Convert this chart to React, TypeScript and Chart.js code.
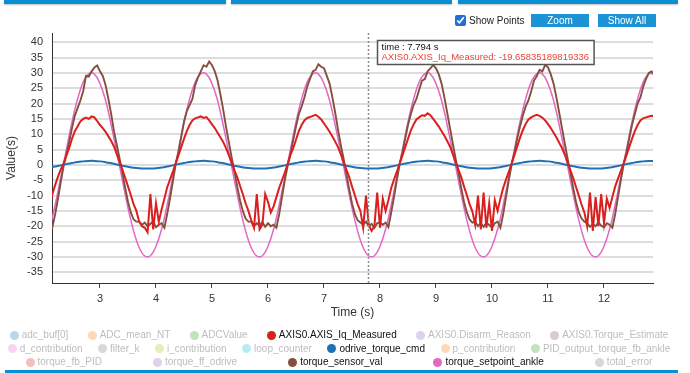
import React, { useEffect, useRef } from "react";
import { Chart, registerables } from "chart.js";

Chart.register(...registerables);

// ---------- data ----------
const FINE_START = 2.1;
const FINE_STEP = 0.05;
const COARSE_START = 2.1;
const COARSE_STEP = 0.1;

const xTickValues = [3, 4, 5, 6, 7, 8, 9, 10, 11, 12];
const yTickValues = [-35, -30, -25, -20, -15, -10, -5, 0, 5, 10, 15, 20, 25, 30, 35, 40];

// AXIS0.AXIS_Iq_Measured (0.05 s samples from 2.1 s)
const iqMeasured = [
  -13.5, -9.5, -6.5, -3.8, -1.5,
  0.5, 3, 5.5, 8.5, 11, 12.5, 14.2, 15, 15.4, 15, 15.8, 15.5, 14.3, 13, 12, 10.8, 9.3, 7.8, 6, 3.5, 1, -1.5, -4.2, -7, -9.8, -12.8, -15, -18.5, -20, -20.5, -22, -9.5, -21, -12.5, -18.5, -14.5, -11, -7.3, -4.8, -2.3,
  0.5, 3, 5.8, 8.5, 11, 13, 14.5, 15.2, 15.5, 15.8, 15.3, 15.6, 14.5, 13.2, 12, 10.5, 9, 7.5, 5.5, 3.2, 0.8, -1.8, -4, -6.8, -9.5, -12.5, -15, -18, -20.5, -9.5, -21, -19.5, -9.5, -12, -15.5, -13.5, -10.5, -7.5, -5, -2.5,
  0.3, 3.2, 5.5, 8.2, 11, 13, 14.5, 15.3, 15.6, 16, 16.3, 15.7, 14.8, 13.5, 12.2, 10.8, 9.3, 7.6, 5.8, 3.5, 1, -1.5, -4, -7, -9.8, -12.8, -15, -20.5, -10, -19.66, -21.5, -20, -9, -20.5, -11, -15, -11.5, -7.5, -4.8, -2.3,
  0.5, 3, 5.8, 8.5, 11.2, 13.2, 14.8, 15.5, 16.2, 16, 16.8, 16.2, 15, 13.8, 12.5, 11, 9.5, 7.8, 6, 3.5, 1, -1.5, -4, -7, -9.8, -12.8, -15.2, -19.5, -10, -21, -9, -20.5, -12.5, -21.5, -11.5, -15, -11, -7.5, -4.8, -2.3,
  0.5, 3.2, 6, 8.8, 11.3, 13.3, 14.8, 15.5, 16, 16.3, 16, 15.4, 14.5, 13.3, 12, 10.5, 9, 7.2, 5.5, 3.3, 0.8, -1.8, -4.3, -7.2, -10, -13, -15.5, -20, -9, -21.5, -10.5, -20, -9.5, -19, -11, -14, -10.5, -7, -4.5, -2,
  0.5, 3, 5.8, 8.5, 11, 13, 14.5, 15.2, 15.5, 15.8, 16, 15.8,
];

// torque_sensor_val (0.05 s samples from 2.1 s)
const torqueSensorVal = [
  -19, -20.3, -16, -11, -5.5,
  -0.5, 3.5, 7.5, 12, 16, 18.5, 21, 24, 29, 28.8, 30.5, 31.8, 32.4, 30.5, 29, 26, 21.5, 16.5, 11, 6.5, 2, -2.5, -7.5, -12, -15.5, -17.8, -18.5, -18.5, -19.5, -18.8, -20, -19.2, -18.5, -20.3, -19.5, -19, -20.5, -16, -11, -5.5,
  0, 4, 9, 14, 17.5, 19.5, 21.5, 26, 28.5, 30.5, 32.5, 32, 33.7, 32.5, 30.5, 27.5, 23, 18, 12.5, 7.5, 2.5, -2, -7, -11.5, -15, -17.5, -18.5, -18.5, -20, -19, -19.8, -18.6, -20.2, -19, -20, -19.5, -20.5, -16, -10.5, -5,
  -0.5, 3.5, 8, 12.5, 16.5, 19, 22, 25.5, 28, 30.5, 31, 32.8, 32, 31.5, 29, 26.5, 22, 17, 11.5, 6.5, 2, -3, -8, -12.5, -16, -18, -18.8, -19.5, -18.5, -20, -19.2, -20.5, -19, -18.8, -19.5, -18.8, -20.3, -15.5, -10.5, -5,
  0, 4, 8.5, 13, 16.5, 19.5, 21.5, 24.5, 27.5, 28, 30.5, 31.5, 32.6, 31.5, 29.5, 26.5, 22, 17, 12, 7, 2, -2.5, -7.5, -12, -15.5, -17.8, -18.8, -18.5, -20, -19, -20.2, -18.8, -19.6, -20.4, -19, -18.5, -20.5, -16, -10.5, -5,
  0, 4, 8.5, 12.5, 16, 19, 21, 24, 27.5, 29, 31, 30.5, 32.6, 31.8, 29.5, 26.5, 22, 17, 12, 7, 2, -2.5, -7.5, -12, -15.5, -17.5, -18.5, -19, -20.2, -19.3, -20, -18.7, -19.8, -20.3, -19, -19.5, -20.5, -16, -10.5, -5,
  0, 4, 8.5, 13, 16.5, 20, 22, 25.5, 28, 30, 30.5, 29.5,
];

// torque_setpoint_ankle (0.1 s samples from 2.1 s)
const torqueSetpointAnkle = [
  -21, -13, -4, 5, 14, 21.5, 27, 29.7, 29.6, 26.5, 21, 13, 4, -5, -14, -21.5, -27, -29.7, -29.6, -26.5,
  -21, -13, -4, 5, 14, 21.5, 27, 29.7, 29.6, 26.5, 21, 13, 4, -5, -14, -21.5, -27, -29.7, -29.6, -26.5,
  -21, -13, -4, 5, 14, 21.5, 27, 29.7, 29.6, 26.5, 21, 13, 4, -5, -14, -21.5, -27, -29.7, -29.6, -26.5,
  -21, -13, -4, 5, 14, 21.5, 27, 29.7, 29.6, 26.5, 21, 13, 4, -5, -14, -21.5, -27, -29.7, -29.6, -26.5,
  -21, -13, -4, 5, 14, 21.5, 27, 29.7, 29.6, 26.5, 21, 13, 4, -5, -14, -21.5, -27, -29.7, -29.6, -26.5,
  -21, -13, -4, 5, 14, 21.5, 27, 29.7, 29.6,
];

// odrive_torque_cmd (0.1 s samples from 2.1 s)
const odriveTorqueCmd = [
  -0.85, -0.55, -0.15, 0.25, 0.6, 0.95, 1.15, 1.3, 1.3, 1.15, 0.9, 0.55, 0.15, -0.25, -0.6, -0.9, -1.1, -1.2, -1.2, -1.1,
  -0.85, -0.55, -0.15, 0.25, 0.6, 0.95, 1.15, 1.3, 1.3, 1.15, 0.9, 0.55, 0.15, -0.25, -0.6, -0.9, -1.1, -1.2, -1.2, -1.1,
  -0.85, -0.55, -0.15, 0.25, 0.6, 0.95, 1.15, 1.3, 1.3, 1.15, 0.9, 0.55, 0.15, -0.25, -0.6, -0.9, -1.1, -1.2, -1.2, -1.1,
  -0.85, -0.55, -0.15, 0.25, 0.6, 0.95, 1.15, 1.3, 1.3, 1.15, 0.9, 0.55, 0.15, -0.25, -0.6, -0.9, -1.1, -1.2, -1.2, -1.1,
  -0.85, -0.55, -0.15, 0.25, 0.6, 0.95, 1.15, 1.3, 1.3, 1.15, 0.9, 0.55, 0.15, -0.25, -0.6, -0.9, -1.1, -1.2, -1.2, -1.1,
  -0.85, -0.55, -0.15, 0.25, 0.6, 0.95, 1.15, 1.3, 1.3,
];

const hoverTime = 7.794;
const hoverSeries = "AXIS0.AXIS_Iq_Measured";
const hoverValueText = "-19.65835189819336";

const legendRows: string[][] = [
  ["adc_buf[0]", "ADC_mean_NT", "ADCValue", "AXIS0.AXIS_Iq_Measured", "AXIS0.Disarm_Reason", "AXIS0.Torque_Estimate"],
  ["d_contribution", "filter_k", "i_contribution", "loop_counter", "odrive_torque_cmd", "p_contribution", "PID_output_torque_fb_ankle"],
  ["torque_fb_PID", "torque_ff_odrive", "torque_sensor_val", "torque_setpoint_ankle", "total_error"],
];

// ---------- styles ----------
const FONT = '"Liberation Sans", Arial, Helvetica, sans-serif';
const palette10 = ["#1f77b4", "#ff7f0e", "#2ca02c", "#d62728", "#9467bd", "#8c564b", "#e377c2", "#7f7f7f", "#bcbd22", "#17becf"];
const activeColors: Record<string, string> = {
  "AXIS0.AXIS_Iq_Measured": "#da1f1f",
  odrive_torque_cmd: "#1f71b4",
  torque_sensor_val: "#83503f",
  torque_setpoint_ankle: "#e268c4",
};

function fade(hex: string, a: number) {
  const r = parseInt(hex.slice(1, 3), 16);
  const g = parseInt(hex.slice(3, 5), 16);
  const b = parseInt(hex.slice(5, 7), 16);
  return `rgba(${r},${g},${b},${a})`;
}

function pts(values: number[], start: number, step: number) {
  return values.map((v, i) => ({ x: start + i * step, y: v }));
}

const hoverPlugin = {
  id: "hoverMarker",
  afterDatasetsDraw(chart: any) {
    const { ctx, chartArea, scales } = chart;
    const x = Math.round(scales.x.getPixelForValue(hoverTime)) + 0.5;
    ctx.save();
    ctx.strokeStyle = "#8c8c8c";
    ctx.lineWidth = 1.5;
    ctx.setLineDash([2, 2]);
    ctx.beginPath();
    ctx.moveTo(x, chartArea.top);
    ctx.lineTo(x, chartArea.bottom);
    ctx.stroke();
    ctx.setLineDash([]);
    ctx.font = `9.5px ${FONT}`;
    const line1 = `time : ${hoverTime} s`;
    const line2 = `${hoverSeries}: ${hoverValueText}`;
    const w = Math.max(ctx.measureText(line1).width, ctx.measureText(line2).width) + 9;
    const bx = Math.round(x + 8) + 0.5;
    const by = chartArea.top + 7.5;
    const h = 24;
    ctx.fillStyle = "#ffffff";
    ctx.fillRect(bx, by, w, h);
    ctx.strokeStyle = "#555555";
    ctx.lineWidth = 1.5;
    ctx.strokeRect(bx, by, w, h);
    ctx.textBaseline = "middle";
    ctx.textAlign = "left";
    ctx.fillStyle = "#111111";
    ctx.fillText(line1, bx + 4, by + 7);
    ctx.fillStyle = "#e8443a";
    ctx.fillText(line2, bx + 4, by + 17);
    ctx.restore();
  },
};

function ChartCanvas() {
  const ref = useRef<HTMLCanvasElement | null>(null);
  useEffect(() => {
    if (!ref.current) return;
    Chart.defaults.font.family = FONT;
    const chart = new Chart(ref.current, {
      type: "line",
      data: {
        datasets: [
          {
            label: "AXIS0.AXIS_Iq_Measured",
            data: pts(iqMeasured, FINE_START, FINE_STEP),
            borderColor: activeColors["AXIS0.AXIS_Iq_Measured"],
            borderWidth: 2,
            pointRadius: 0,
            tension: 0,
          },
          {
            label: "odrive_torque_cmd",
            data: pts(odriveTorqueCmd, COARSE_START, COARSE_STEP),
            borderColor: activeColors.odrive_torque_cmd,
            borderWidth: 2,
            pointRadius: 0,
            tension: 0.4,
          },
          {
            label: "torque_sensor_val",
            data: pts(torqueSensorVal, FINE_START, FINE_STEP),
            borderColor: activeColors.torque_sensor_val,
            borderWidth: 1.9,
            pointRadius: 0,
            tension: 0,
          },
          {
            label: "torque_setpoint_ankle",
            data: pts(torqueSetpointAnkle, COARSE_START, COARSE_STEP),
            borderColor: activeColors.torque_setpoint_ankle,
            borderWidth: 1.5,
            pointRadius: 0,
            tension: 0.4,
          },
        ],
      },
      options: {
        animation: false,
        responsive: false,
        maintainAspectRatio: false,
        layout: { padding: { top: 33, right: 37, bottom: 9, left: 0 } },
        plugins: { legend: { display: false }, tooltip: { enabled: false } },
        scales: {
          x: {
            type: "linear",
            min: 2.143,
            max: 12.875,
            afterFit: (s: any) => {
              s.height = 38;
            },
            afterBuildTicks: (s: any) => {
              s.ticks = xTickValues.map((v) => ({ value: v }));
            },
            grid: { display: true, drawOnChartArea: false, drawTicks: true, tickLength: 5, color: "#444" },
            border: { display: true, color: "#333", width: 1 },
            ticks: { padding: 4, color: "#333", font: { size: 11 }, maxRotation: 0, includeBounds: false },
            title: { display: true, text: "Time (s)", color: "#333", font: { size: 12 }, padding: { top: 0, bottom: 1 } },
          },
          y: {
            type: "linear",
            min: -38.5,
            max: 43,
            afterFit: (s: any) => {
              s.width = 52;
            },
            afterBuildTicks: (s: any) => {
              s.ticks = yTickValues.map((v) => ({ value: v }));
            },
            grid: { color: "#dddddd", lineWidth: 2, drawTicks: false },
            border: { display: true, color: "#333", width: 1 },
            ticks: { padding: 9, color: "#333", font: { size: 11 }, includeBounds: false },
            title: { display: true, text: "Value(s)", color: "#333", font: { size: 12 }, padding: { top: 4, bottom: 0 } },
          },
        },
      } as any,
      plugins: [hoverPlugin],
    });
    return () => chart.destroy();
  }, []);
  return (
    <canvas
      ref={ref}
      width={690}
      height={330}
      style={{ position: "absolute", left: 0, top: 0, width: 690, height: 330 }}
    />
  );
}

function Legend() {
  const all = legendRows.flat();
  const rowTops = [328, 341.5, 355];
  return (
    <>
      {legendRows.map((row, ri) => (
        <div
          key={ri}
          style={{
            position: "absolute",
            left: 0,
            top: rowTops[ri],
            width: 678,
            height: 14,
            display: "flex",
            justifyContent: "space-around",
            alignItems: "center",
            fontFamily: FONT,
            fontSize: 10,
            lineHeight: "14px",
            whiteSpace: "nowrap",
          }}
        >
          {row.map((name) => {
            const idx = all.indexOf(name);
            const active = activeColors[name];
            const dot = active ? active : fade(palette10[idx % 10], 0.3);
            return (
              <div key={name} style={{ display: "flex", alignItems: "center" }}>
                <span
                  style={{
                    display: "inline-block",
                    width: 9,
                    height: 9,
                    borderRadius: "50%",
                    background: dot,
                    marginRight: 3,
                  }}
                />
                <span style={{ color: active ? "#111" : "#bdbdbd" }}>{name}</span>
              </div>
            );
          })}
        </div>
      ))}
    </>
  );
}

export default function App() {
  const blue = "#0b8fd3";
  const tabs = [
    [4, 222],
    [231, 221],
    [458, 220],
  ];
  return (
    <div
      style={{
        position: "fixed",
        left: 0,
        top: 0,
        width: 690,
        height: 373,
        overflow: "hidden",
        background: "#ffffff",
        fontFamily: FONT,
      }}
    >
      <ChartCanvas />
      {tabs.map(([l, w], i) => (
        <div
          key={i}
          style={{
            position: "absolute",
            left: l,
            top: 0,
            width: w,
            height: 4,
            background: blue,
            boxShadow: "0 1px 2px rgba(0,0,0,0.25)",
          }}
        />
      ))}
      <input
        type="checkbox"
        defaultChecked
        style={{ position: "absolute", left: 455, top: 15, width: 11, height: 11, margin: 0, accentColor: "#1f6fd6" }}
      />
      <span style={{ position: "absolute", left: 469, top: 14, fontSize: 10, lineHeight: "13px", color: "#222" }}>
        Show Points
      </span>
      <div
        style={{
          position: "absolute",
          left: 531,
          top: 14,
          width: 58,
          height: 13,
          background: "#1b93d4",
          color: "#fff",
          fontSize: 10,
          lineHeight: "13px",
          textAlign: "center",
        }}
      >
        Zoom
      </div>
      <div
        style={{
          position: "absolute",
          left: 598,
          top: 14,
          width: 58,
          height: 13,
          background: "#1b93d4",
          color: "#fff",
          fontSize: 10,
          lineHeight: "13px",
          textAlign: "center",
        }}
      >
        Show All
      </div>
      <Legend />
      <div style={{ position: "absolute", left: 5, top: 370, width: 673, height: 3, background: blue }} />
    </div>
  );
}
